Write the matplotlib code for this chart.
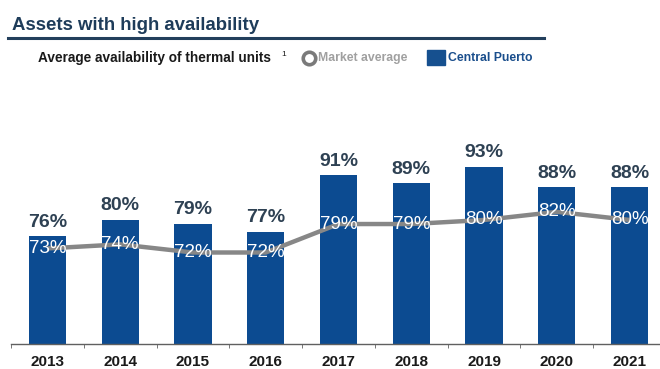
import matplotlib.pyplot as plt
from matplotlib.lines import Line2D
from matplotlib.patches import Rectangle

years = ['2013', '2014', '2015', '2016', '2017', '2018', '2019', '2020', '2021']
central_puerto = [76, 80, 79, 77, 91, 89, 93, 88, 88]
market_average = [73, 74, 72, 72, 79, 79, 80, 82, 80]

bar_color = '#0C4B91'
line_color = '#878787'
plt.rcParams['font.family'] = ['Liberation Sans', 'DejaVu Sans']

fig = plt.figure(figsize=(6.6, 3.69), dpi=100)
ax = fig.add_axes([11 / 660, 25 / 369, 655 / 660, 244 / 369])

x = list(range(len(years)))
ax.bar(x, central_puerto, width=0.51, color=bar_color, zorder=2)
ax.plot(x, market_average, color=line_color, lw=3.2, zorder=3, solid_capstyle='butt')

for xi, v in zip(x, central_puerto):
    ax.annotate(f'{v}%', (xi, v), xytext=(0, 7), textcoords='offset points',
                ha='center', va='baseline', fontsize=14, fontweight='bold',
                color='#2E4153', zorder=4)
for xi, v in zip(x, market_average):
    ax.text(xi, v, f'{v}%', ha='center', va='center', fontsize=13.5,
            color='white', zorder=5)

ax.set_xlim(-0.5, len(years) - 0.5)
ax.set_ylim(49.5, 109.5)
for s in ['top', 'right', 'left']:
    ax.spines[s].set_visible(False)
ax.spines['bottom'].set_color('#606060')
ax.spines['bottom'].set_linewidth(1.0)
ax.set_yticks([])
ax.set_xticks(x)
ax.set_xticklabels(years, fontsize=11, fontweight='bold', color='#1A1A1A')
ax.tick_params(axis='x', which='major', length=0, pad=8)
ax.set_xticks([i - 0.5 for i in range(len(years) + 1)], minor=True)
ax.tick_params(axis='x', which='minor', length=3, color='#606060', direction='out')

# header and legend row
fig.text(12 / 660, 1 - 25 / 369, 'Assets with high availability', fontsize=13.4,
         fontweight='bold', color='#1E3C5A', va='center', ha='left')
fig.add_artist(Line2D([8 / 660, 544 / 660], [1 - 38 / 369] * 2, color='#233F5C', lw=2.2))
fig.text(38 / 660, 1 - 58 / 369, 'Average availability of thermal units', fontsize=9.8,
         fontweight='bold', color='#1A1A1A', va='center', ha='left')
fig.text(281 / 660, 1 - 55 / 369, '1', fontsize=6, color='#1A1A1A', va='center', ha='left')
fig.add_artist(Line2D([308.5 / 660], [1 - 58 / 369], marker='o', markersize=9,
                      markerfacecolor='white', markeredgecolor='#7A7A7A', markeredgewidth=2.6))
fig.text(318 / 660, 1 - 58 / 369, 'Market average', fontsize=8.8, fontweight='bold',
         color='#A0A0A0', va='center', ha='left')
fig.add_artist(Rectangle((427 / 660, 1 - 65 / 369), 18 / 660, 15 / 369,
                         transform=fig.transFigure, color='#16508F'))
fig.text(448 / 660, 1 - 58 / 369, 'Central Puerto', fontsize=8.8, fontweight='bold',
         color='#1A4E8C', va='center', ha='left')

fig.savefig('out.png', dpi=100)
